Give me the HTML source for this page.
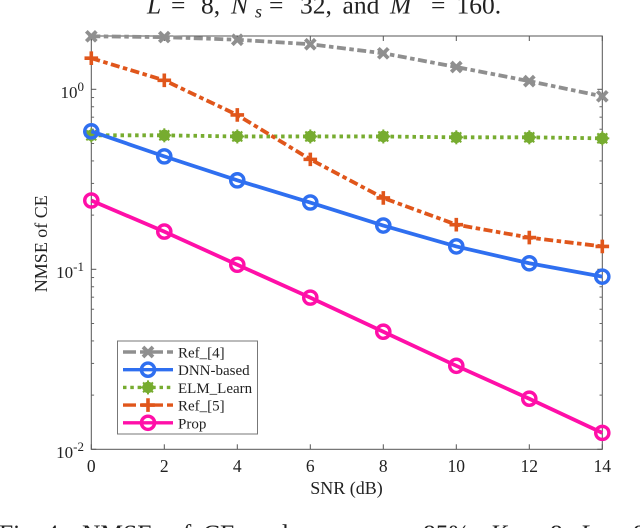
<!DOCTYPE html>
<html><head><meta charset="utf-8"><title>NMSE of CE vs SNR</title>
<style>
html,body{margin:0;padding:0;background:#fff;width:640px;height:528px;overflow:hidden}
svg{display:block;font-family:"Liberation Serif",serif}
</style></head>
<body>
<svg id="chart" width="640" height="528" viewBox="0 0 640 528" xmlns="http://www.w3.org/2000/svg">
<text y="13.5" font-size="25.5" fill="#222"><tspan x="147" font-style="italic">L</tspan><tspan x="171">=</tspan><tspan x="201">8,</tspan><tspan x="231" font-style="italic">N</tspan><tspan x="255" dy="4" font-size="18" font-style="italic">s</tspan><tspan x="269" dy="-4">=</tspan><tspan x="300">32,</tspan><tspan x="342.5">and</tspan><tspan x="390" font-style="italic">M</tspan><tspan x="431">=</tspan><tspan x="456.5">160.</tspan></text>
<g id="grid"></g>
<g id="series"></g>
<g id="legend"></g>
<text x="346.5" y="494" text-anchor="middle" font-size="18" fill="#222">SNR (dB)</text>
<text transform="translate(47 243.7) rotate(-90)" text-anchor="middle" font-size="18" fill="#222">NMSE of CE</text>
<text y="542" font-size="25.5" fill="#222"><tspan x="-1">Fig. 4:</tspan><tspan x="82">NMSE</tspan><tspan x="170">of</tspan><tspan x="203">CE</tspan><tspan x="250">under</tspan><tspan x="423">85%,</tspan><tspan x="490" font-style="italic">K</tspan><tspan x="518">=</tspan><tspan x="550">8,</tspan><tspan x="580" font-style="italic">L</tspan><tspan x="604">=</tspan><tspan x="633">8,</tspan></text>
</svg>
<script>
const snrValues = [0, 2, 4, 6, 8, 10, 12, 14];
const ref4Values = [1.97, 1.95, 1.885, 1.78, 1.585, 1.33, 1.11, 0.914];
const dnnValues = [0.584, 0.424, 0.312, 0.235, 0.175, 0.134, 0.108, 0.091];
const elmValues = [0.555, 0.555, 0.547, 0.547, 0.547, 0.541, 0.541, 0.534];
const ref5Values = [1.488, 1.122, 0.72, 0.408, 0.249, 0.177, 0.150, 0.134];
const propValues = [0.241, 0.162, 0.106, 0.0696, 0.045, 0.0291, 0.0191, 0.01234];
const xTickLabels = ['0', '2', '4', '6', '8', '10', '12', '14'];
const yDecades = [0, -1, -2];
const legendLabels = ['Ref_[4]', 'DNN-based', 'ELM_Learn', 'Ref_[5]', 'Prop'];

const NS = 'http://www.w3.org/2000/svg';
const L = 91.3, R = 602.3, T = 36, B = 449.3;
const xScale = v => L + (v - 0) / 14 * (R - L);
const yScale = v => 89.3 - 180 * Math.log10(v);
function mk(parent, tag, attrs, text) {
  const e = document.createElementNS(NS, tag);
  for (const k in attrs) e.setAttribute(k, attrs[k]);
  if (text !== undefined) e.textContent = text;
  parent.appendChild(e);
  return e;
}
const grid = document.getElementById('grid');
const axisBox = mk(grid, 'rect', {x: L, y: T, width: R - L, height: B - T, fill: 'none', stroke: '#555', 'stroke-width': 1});



snrValues.forEach((s, i) => {
  const x = xScale(s);
  mk(grid, 'line', {x1: x, x2: x, y1: B, y2: B - 5, stroke: '#555', 'stroke-width': 1});
  mk(grid, 'line', {x1: x, x2: x, y1: T, y2: T + 5, stroke: '#555', 'stroke-width': 1});
  const t = mk(grid, 'text', {x: x, y: 472, 'text-anchor': 'middle', 'font-size': 17.5, fill: '#222'}, xTickLabels[i]);
  
  
});

yDecades.forEach(d => {
  const y = yScale(Math.pow(10, d));
  mk(grid, 'line', {x1: L, x2: L + 5, y1: y, y2: y, stroke: '#555', 'stroke-width': 1});
  mk(grid, 'line', {x1: R, x2: R - 5, y1: y, y2: y, stroke: '#555', 'stroke-width': 1});
  const t = mk(grid, 'text', {x: 84, y: y + 8.5, 'text-anchor': 'end', 'font-size': 17, fill: '#222'});
  
  
  mk(t, 'tspan', {}, '10');
  mk(t, 'tspan', {dy: -7, 'font-size': 13}, String(d));
  for (let m = 2; m <= 9; m++) {
    const v = m * Math.pow(10, d);
    const ym = yScale(v);
    if (ym < T || ym > B) continue;
    mk(grid, 'line', {x1: L, x2: L + 2.8, y1: ym, y2: ym, stroke: '#666', 'stroke-width': 1});
    mk(grid, 'line', {x1: R, x2: R - 2.8, y1: ym, y2: ym, stroke: '#666', 'stroke-width': 1});
  }
});

function marker(g, kind, x, y, color) {
  if (kind === 'x') {
    const r = 5;
    mk(g, 'path', {d: `M${x-r} ${y-r}L${x+r} ${y+r}M${x-r} ${y+r}L${x+r} ${y-r}`, stroke: color, 'stroke-width': 3.8, fill: 'none'});
    mk(g, 'path', {d: `M${x-3} ${y}L${x+3} ${y}`, stroke: color, 'stroke-width': 3.6, fill: 'none'});
  } else if (kind === 'o') {
    mk(g, 'circle', {cx: x, cy: y, r: 6.6, fill: 'none', stroke: color, 'stroke-width': 3.4});
  } else if (kind === 'star') {
    mk(g, 'circle', {cx: x, cy: y, r: 5.7, fill: color});
    for (let a = 0; a < 8; a++) {
      const t = a * Math.PI / 4;
      mk(g, 'line', {x1: x, y1: y, x2: x + 7 * Math.cos(t), y2: y + 7 * Math.sin(t), stroke: color, 'stroke-width': 2});
    }
  } else {
    const r = 6.8;
    mk(g, 'path', {d: `M${x-r} ${y}L${x+r} ${y}M${x} ${y-r}L${x} ${y+r}`, stroke: color, 'stroke-width': 3.6, fill: 'none'});
  }
}

const seriesDefs = [
  {name: 'ref4', vals: ref4Values, color: '#8f8f8f', dash: '9 3.5 4.5 3.5', mark: 'x', w: 3.8},
  {name: 'elm-learn', vals: elmValues, color: '#77ac30', dash: '3.5 3.8', mark: 'star', w: 3.8},
  {name: 'ref5', vals: ref5Values, color: '#e0561b', dash: '9 3.5 4.5 3.5', mark: 'plus', w: 3.8},
  {name: 'dnn-based', vals: dnnValues, color: '#2f6ff0', dash: '', mark: 'o', w: 3.8},
  {name: 'prop', vals: propValues, color: '#ff0fa8', dash: '', mark: 'o', w: 3.8}
];
const legendOrder = [
  {color: '#8f8f8f', dash: '13 4 6 4', mark: 'x'},
  {color: '#2f6ff0', dash: '', mark: 'o'},
  {color: '#77ac30', dash: '3.5 3.8', mark: 'star'},
  {color: '#e0561b', dash: '13 4 6 4', mark: 'plus'},
  {color: '#ff0fa8', dash: '', mark: 'o'}
];
const seriesRoot = document.getElementById('series');
seriesDefs.forEach(s => {
  const g = mk(seriesRoot, 'g', {});
  
  
  const pts = s.vals.map((v, i) => xScale(snrValues[i]) + ',' + yScale(v)).join(' ');
  const attrs = {points: pts, fill: 'none', stroke: s.color, 'stroke-width': s.w};
  if (s.dash) attrs['stroke-dasharray'] = s.dash;
  mk(g, 'polyline', attrs);
  s.vals.forEach((v, i) => marker(g, s.mark, xScale(snrValues[i]), yScale(v), s.color));
});

const lg = document.getElementById('legend');
mk(lg, 'rect', {x: 117.5, y: 341, width: 140, height: 93, fill: '#fff', stroke: '#777', 'stroke-width': 1});
legendLabels.forEach((lab, i) => {
  const y = 352 + i * 17.7;
  const st = legendOrder[i];
  const g = mk(lg, 'g', {});
  
  
  const a = {x1: 123, x2: 173, y1: y, y2: y, stroke: st.color, 'stroke-width': 3.4};
  if (st.dash) a['stroke-dasharray'] = st.dash;
  mk(g, 'line', a);
  marker(g, st.mark, 148, y, st.color);
  mk(g, 'text', {x: 178, y: y + 5.5, 'font-size': 15, fill: '#222'}, lab);
});
</script>
</body></html>
